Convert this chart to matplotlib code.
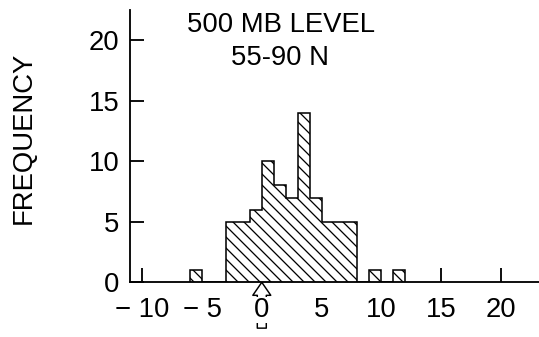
import matplotlib
matplotlib.use("Agg")
import matplotlib.pyplot as plt
import numpy as np

# histogram of 500 mb errors, 55-90 N, unit-width bins from -6 to 12
bin_edges = np.arange(-6, 13)
counts = [1, 0, 0, 5, 5, 6, 10, 8, 7, 14, 7, 5, 5, 5, 0, 1, 0, 1]

x_ticks = [-10, -5, 0, 5, 10, 15, 20]
x_labels = ["\u2212 10", "\u2212 5", "0", "5", "10", "15", "20"]
y_ticks = [0, 5, 10, 15, 20]
hidden_x_ticks = [-5, 0, 5, 10]   # these sit under the bars

title_lines = ["500 MB LEVEL", "55-90 N"]
y_label = "FREQUENCY"

BACKSLASH = chr(92)

plt.rcParams["font.family"] = ["Liberation Sans", "DejaVu Sans"]
plt.rcParams["hatch.linewidth"] = 0.7
FS = 15

DPI = 132
fig = plt.figure(figsize=(539 / DPI, 337 / DPI), dpi=DPI)
ax = fig.add_axes([0.2403, 0.1623, 0.7597, 0.808])

ax.stairs(counts, bin_edges, fill=True, hatch=BACKSLASH * 4, facecolor="white",
          edgecolor="black", linewidth=0.85, zorder=1)

ax.set_xlim(-11.07, 23.2)
ax.set_ylim(0, 22.5)
for side in ("top", "right"):
    ax.spines[side].set_visible(False)
for side in ("left", "bottom"):
    ax.spines[side].set_linewidth(1.0)

ax.set_xticks(x_ticks)
ax.set_xticklabels(x_labels, fontsize=FS)
ax.set_yticks(y_ticks)
ax.set_yticklabels([str(v) for v in y_ticks], fontsize=FS)
ax.tick_params(axis="x", direction="in", length=7.6, width=1.0, pad=8.0)
ax.tick_params(axis="y", direction="in", length=7.6, width=1.0, pad=5.5)

for val, tick in zip(x_ticks, ax.xaxis.get_major_ticks()):
    if val in hidden_x_ticks:
        tick.tick1line.set_visible(False)
    if val == 0:
        tick.label1.set_bbox(dict(facecolor="white", edgecolor="none", pad=0))

# hollow arrow marking zero, running up behind the "0" label
ax.annotate("", xy=(0, 0), xycoords="data", xytext=(0, -25),
            textcoords="offset points", annotation_clip=False, zorder=0.5,
            arrowprops=dict(arrowstyle="simple,head_length=0.71,head_width=0.98,tail_width=0.49",
                            mutation_scale=10, facecolor="white", edgecolor="black",
                            linewidth=0.8, shrinkA=0, shrinkB=0))

fig.text(281 / 539, 1 - 31.7 / 337, title_lines[0], fontsize=FS,
         ha="center", va="baseline")
fig.text(280 / 539, 1 - 65 / 337, title_lines[1], fontsize=FS,
         ha="center", va="baseline")
fig.text(24 / 539, 1 - 138 / 337, y_label, fontsize=FS, rotation=90,
         ha="center", va="center")

fig.savefig("out.png", dpi=DPI)
